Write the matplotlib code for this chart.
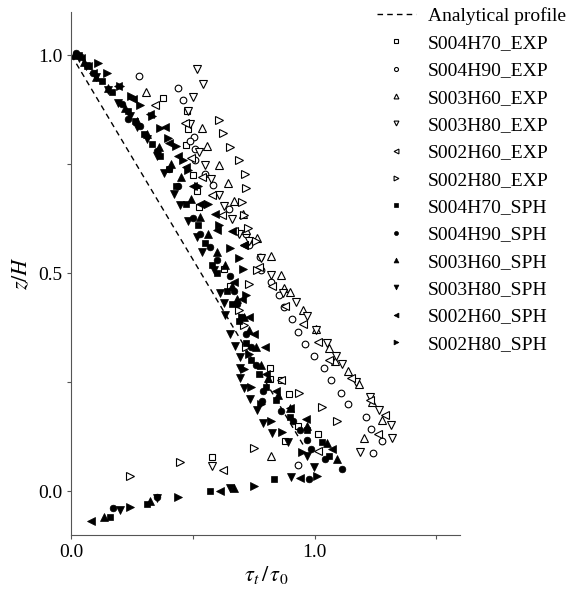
import matplotlib
matplotlib.use("Agg")
import matplotlib.pyplot as plt
from matplotlib.ticker import FixedLocator, FormatStrFormatter

plt.rcParams['font.family'] = ['Liberation Serif', 'DejaVu Serif']
plt.rcParams['mathtext.fontset'] = 'stix'

# analytical profile
ana_x = [0.0, 0.48, 0.96]
ana_y = [1.0, 0.55, 0.10]

# experimental series (open markers)
s004h70_exp_x = [0.376, 0.475, 0.479, 0.472, 0.500, 0.516, 0.526, 0.628, 0.653, 0.816, 0.818, 0.860, 0.893, 0.931, 0.880, 1.016, 0.578]
s004h70_exp_y = [0.902, 0.873, 0.831, 0.795, 0.725, 0.689, 0.652, 0.510, 0.472, 0.283, 0.257, 0.256, 0.222, 0.150, 0.116, 0.132, 0.078]

s004h90_exp_x = [0.279, 0.438, 0.457, 0.504, 0.488, 0.509, 0.510, 0.551, 0.583, 0.647, 0.716, 0.730, 0.776, 0.780, 0.822, 0.855, 0.876,
                 0.906, 0.931, 0.960, 0.997, 1.040, 1.066, 1.109, 1.139, 1.210, 1.231, 1.277, 1.241, 0.930]
s004h90_exp_y = [0.953, 0.925, 0.897, 0.812, 0.803, 0.785, 0.760, 0.728, 0.702, 0.647, 0.591, 0.566, 0.538, 0.508, 0.481, 0.451, 0.422,
                 0.396, 0.365, 0.338, 0.311, 0.283, 0.255, 0.226, 0.200, 0.171, 0.142, 0.116, 0.088, 0.060]

s003h60_exp_x = [0.307, 0.539, 0.558, 0.606, 0.645, 0.669, 0.704, 0.720, 0.763, 0.819, 0.860, 0.874, 0.901, 0.954, 1.008, 1.059, 1.084,
                 1.137, 1.183, 1.235, 1.279, 1.202, 0.821]
s003h60_exp_y = [0.916, 0.833, 0.792, 0.749, 0.707, 0.667, 0.635, 0.600, 0.580, 0.540, 0.497, 0.466, 0.457, 0.416, 0.372, 0.329, 0.298,
                 0.276, 0.247, 0.205, 0.163, 0.123, 0.080]

s003h80_exp_x = [0.518, 0.541, 0.498, 0.480, 0.489, 0.523, 0.548, 0.574, 0.607, 0.628, 0.661, 0.689, 0.730, 0.780, 0.822, 0.870, 0.922,
                 0.967, 1.008, 1.052, 1.087, 1.114, 1.170, 1.230, 1.265, 1.313, 1.320, 1.189, 0.578]
s003h80_exp_y = [0.968, 0.935, 0.905, 0.873, 0.842, 0.778, 0.749, 0.717, 0.679, 0.655, 0.624, 0.591, 0.575, 0.535, 0.496, 0.455, 0.435,
                 0.401, 0.370, 0.340, 0.310, 0.291, 0.250, 0.216, 0.186, 0.152, 0.122, 0.091, 0.059]

s002h60_exp_x = [0.342, 0.468, 0.490, 0.537, 0.580, 0.620, 0.669, 0.709, 0.770, 0.824, 0.880, 0.953, 1.015, 1.060, 1.149, 1.230, 1.290,
                 1.262, 0.860, 1.016, 0.623]
s002h60_exp_y = [0.886, 0.845, 0.765, 0.720, 0.679, 0.633, 0.597, 0.566, 0.515, 0.471, 0.425, 0.384, 0.342, 0.300, 0.259, 0.210, 0.175,
                 0.132, 0.256, 0.093, 0.049]

s002h80_exp_x = [0.608, 0.622, 0.653, 0.690, 0.715, 0.716, 0.702, 0.708, 0.727, 0.760, 0.764, 0.732, 0.690, 0.711, 0.720, 0.936, 1.031,
                 1.093, 0.752, 0.445, 0.241]
s002h80_exp_y = [0.852, 0.821, 0.789, 0.759, 0.727, 0.696, 0.664, 0.634, 0.603, 0.575, 0.508, 0.475, 0.415, 0.382, 0.330, 0.226, 0.193,
                 0.161, 0.100, 0.068, 0.036]

# SPH series (filled markers)
s004h70_sph_x = [0.030, 0.063, 0.125, 0.166, 0.234, 0.260, 0.300, 0.330, 0.365, 0.400, 0.430, 0.470, 0.520, 0.550, 0.580, 0.600, 0.640,
                 0.660, 0.690, 0.720, 0.740, 0.770, 0.800, 0.840, 0.900, 0.970, 1.032, 1.060, 0.832, 0.568, 0.310, 0.159]
s004h70_sph_y = [1.000, 0.976, 0.941, 0.915, 0.873, 0.850, 0.820, 0.797, 0.770, 0.740, 0.700, 0.660, 0.610, 0.570, 0.520, 0.500, 0.460,
                 0.430, 0.390, 0.340, 0.300, 0.270, 0.240, 0.210, 0.170, 0.140, 0.112, 0.080, 0.027, 0.000, -0.030, -0.059]

s004h90_sph_x = [0.020, 0.090, 0.207, 0.234, 0.283, 0.350, 0.400, 0.440, 0.502, 0.530, 0.570, 0.600, 0.654, 0.670, 0.680, 0.700, 0.720,
                 0.740, 0.760, 0.788, 0.784, 0.860, 0.912, 0.942, 0.967, 0.986, 1.042, 1.111, 0.977, 0.351, 0.172]
s004h90_sph_y = [1.005, 0.960, 0.888, 0.854, 0.838, 0.780, 0.740, 0.700, 0.627, 0.590, 0.560, 0.530, 0.494, 0.460, 0.430, 0.400, 0.360,
                 0.330, 0.290, 0.229, 0.206, 0.184, 0.160, 0.140, 0.117, 0.097, 0.074, 0.051, 0.028, -0.014, -0.038]

s003h60_sph_x = [0.010, 0.050, 0.100, 0.150, 0.220, 0.270, 0.310, 0.360, 0.410, 0.450, 0.490, 0.530, 0.560, 0.600, 0.630, 0.660, 0.680,
                 0.710, 0.730, 0.760, 0.780, 0.810, 0.850, 0.900, 0.970, 1.050, 1.091, 0.667, 0.324, 0.134]
s003h60_sph_y = [1.000, 0.985, 0.950, 0.925, 0.880, 0.850, 0.820, 0.790, 0.750, 0.720, 0.670, 0.630, 0.590, 0.550, 0.520, 0.470, 0.440,
                 0.400, 0.370, 0.330, 0.290, 0.260, 0.220, 0.190, 0.150, 0.110, 0.074, 0.008, -0.023, -0.058]

s003h80_sph_x = [0.030, 0.060, 0.100, 0.150, 0.190, 0.240, 0.270, 0.310, 0.350, 0.380, 0.420, 0.447, 0.480, 0.516, 0.537, 0.585, 0.612,
                 0.626, 0.633, 0.654, 0.674, 0.692, 0.695, 0.692, 0.709, 0.736, 0.763, 0.786, 0.827, 0.889, 0.967, 0.997, 0.903, 0.654,
                 0.351, 0.200]
s003h80_sph_y = [0.995, 0.975, 0.950, 0.920, 0.890, 0.860, 0.835, 0.808, 0.770, 0.730, 0.683, 0.656, 0.620, 0.584, 0.550, 0.508, 0.454,
                 0.432, 0.405, 0.360, 0.333, 0.307, 0.283, 0.259, 0.236, 0.211, 0.186, 0.157, 0.133, 0.112, 0.081, 0.055, 0.032, 0.008,
                 -0.015, -0.042]

s002h60_sph_x = [0.040, 0.070, 0.090, 0.190, 0.255, 0.325, 0.386, 0.400, 0.440, 0.470, 0.500, 0.530, 0.592, 0.600, 0.660, 0.709, 0.670,
                 0.700, 0.730, 0.750, 0.798, 0.800, 0.840, 0.900, 0.963, 1.073, 0.940, 0.612, 0.079]
s002h60_sph_y = [0.995, 0.975, 0.960, 0.930, 0.900, 0.865, 0.835, 0.800, 0.770, 0.745, 0.700, 0.660, 0.635, 0.600, 0.597, 0.565, 0.480,
                 0.440, 0.400, 0.360, 0.330, 0.270, 0.230, 0.190, 0.165, 0.097, 0.031, 0.000, -0.068]

s002h80_sph_x = [0.110, 0.145, 0.200, 0.243, 0.283, 0.330, 0.364, 0.397, 0.431, 0.458, 0.479, 0.520, 0.561, 0.605, 0.651, 0.688, 0.706,
                 0.720, 0.700, 0.729, 0.710, 0.740, 0.780, 0.819, 0.867, 0.950, 1.011, 0.750, 0.440, 0.241]
s002h80_sph_y = [0.983, 0.959, 0.930, 0.907, 0.885, 0.860, 0.834, 0.810, 0.793, 0.761, 0.736, 0.700, 0.660, 0.610, 0.559, 0.534, 0.510,
                 0.450, 0.400, 0.314, 0.280, 0.240, 0.200, 0.161, 0.135, 0.090, 0.036, 0.011, -0.014, -0.036]

exp_series = [
    (s004h70_exp_x, s004h70_exp_y, 's', 'S004H70_EXP'),
    (s004h90_exp_x, s004h90_exp_y, 'o', 'S004H90_EXP'),
    (s003h60_exp_x, s003h60_exp_y, '^', 'S003H60_EXP'),
    (s003h80_exp_x, s003h80_exp_y, 'v', 'S003H80_EXP'),
    (s002h60_exp_x, s002h60_exp_y, '<', 'S002H60_EXP'),
    (s002h80_exp_x, s002h80_exp_y, '>', 'S002H80_EXP'),
]
sph_series = [
    (s004h70_sph_x, s004h70_sph_y, 's', 'S004H70_SPH'),
    (s004h90_sph_x, s004h90_sph_y, 'o', 'S004H90_SPH'),
    (s003h60_sph_x, s003h60_sph_y, '^', 'S003H60_SPH'),
    (s003h80_sph_x, s003h80_sph_y, 'v', 'S003H80_SPH'),
    (s002h60_sph_x, s002h60_sph_y, '<', 'S002H60_SPH'),
    (s002h80_sph_x, s002h80_sph_y, '>', 'S002H80_SPH'),
]

fig = plt.figure(figsize=(5.67, 5.89), dpi=100)
ax = fig.add_axes([0.126, 0.092, 0.686, 0.888])

ax.plot(ana_x, ana_y, 'k--', lw=1.0, dashes=(4, 3), label='Analytical profile')

for x, y, m, lab in exp_series:
    ms = 4.8 if m in 'so' else 5.8
    ax.plot(x, y, ls='none', marker=m, ms=ms, mfc='white', mec='black', mew=0.8, label=lab)
for x, y, m, lab in sph_series:
    ms = 4.8 if m in 'so' else 5.8
    ax.plot(x, y, ls='none', marker=m, ms=ms, mfc='black', mec='black', mew=0.5, label=lab)

ax.set_xlim(0, 1.6)
ax.set_ylim(-0.1, 1.1)
ax.xaxis.set_major_locator(FixedLocator([0.0, 1.0]))
ax.xaxis.set_minor_locator(FixedLocator([0.5, 1.5]))
ax.yaxis.set_major_locator(FixedLocator([0.0, 0.5, 1.0]))
ax.yaxis.set_minor_locator(FixedLocator([0.25, 0.75]))
ax.xaxis.set_major_formatter(FormatStrFormatter('%.1f'))
ax.yaxis.set_major_formatter(FormatStrFormatter('%.1f'))
ax.tick_params(which='both', direction='out', length=3, width=0.8, color='#555555', labelsize=14)
for s in ['top', 'right']:
    ax.spines[s].set_visible(False)
for s in ['left', 'bottom']:
    ax.spines[s].set_color('#555555')
    ax.spines[s].set_linewidth(0.8)

ax.set_xlabel(r'$\tau_t\,/\,\tau_0$', fontsize=16, labelpad=2)
ax.set_ylabel(r'$z/H$', fontsize=16, labelpad=4)

ax.legend(loc='upper right', bbox_to_anchor=(1.018, 1.008), bbox_transform=fig.transFigure, frameon=False,
          fontsize=14, markerscale=0.6, labelspacing=0.5, handlelength=2.0, handletextpad=0.6, borderaxespad=0.2)

fig.savefig('out.png', dpi=100)
